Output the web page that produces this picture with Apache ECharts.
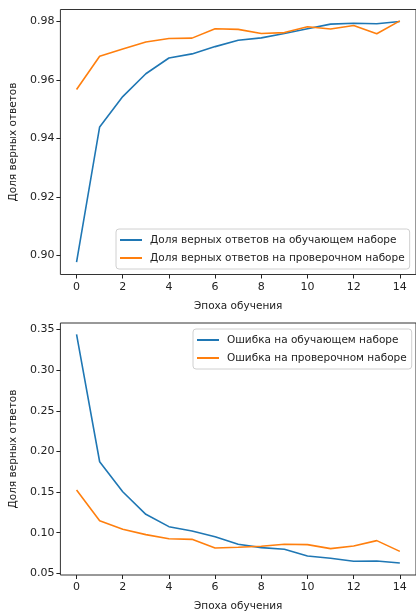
<!DOCTYPE html>
<html>
<head>
<meta charset="utf-8">
<script src="https://cdn.jsdelivr.net/npm/echarts@6/dist/echarts.min.js"></script>
<style>
  html, body { margin: 0; padding: 0; background: #fff; }
  #main { width: 416px; height: 614px; }
</style>
</head>
<body>
<div id="main"></div>
<script>
// эпохи и значения
var epochs = [0, 1, 2, 3, 4, 5, 6, 7, 8, 9, 10, 11, 12, 13, 14];
var accTrain = [0.8976, 0.9439, 0.9543, 0.9621, 0.9675, 0.9689, 0.9714, 0.9736, 0.9744, 0.9759, 0.9775, 0.9791, 0.9794, 0.9792, 0.9800];
var accVal = [0.9567, 0.9681, 0.9706, 0.9730, 0.9742, 0.9743, 0.9775, 0.9773, 0.9759, 0.9762, 0.9782, 0.9774, 0.9786, 0.9758, 0.9802];
var lossTrain = [0.3440, 0.1873, 0.1504, 0.1226, 0.1074, 0.1020, 0.0951, 0.0857, 0.0816, 0.0796, 0.0713, 0.0685, 0.0648, 0.0652, 0.0627];
var lossVal = [0.1525, 0.1148, 0.1041, 0.0976, 0.0926, 0.0918, 0.0811, 0.0820, 0.0832, 0.0857, 0.0853, 0.0804, 0.0836, 0.0902, 0.0770];
var xTicks = [0, 2, 4, 6, 8, 10, 12, 14];
var accTicks = [0.90, 0.92, 0.94, 0.96, 0.98];
var lossTicks = [0.05, 0.10, 0.15, 0.20, 0.25, 0.30, 0.35];

var names = {
  accTrain: "Доля верных ответов на обучающем наборе",
  accVal: "Доля верных ответов на проверочном наборе",
  lossTrain: "Ошибка на обучающем наборе",
  lossVal: "Ошибка на проверочном наборе"
};

function pairs(ys) {
  return epochs.map(function (x, i) { return [x, ys[i]]; });
}

var font = "DejaVu Sans";
var txt = "#222";

function xAxisCfg(gridIndex) {
  return {
    type: "value",
    gridIndex: gridIndex,
    min: -0.7,
    max: 14.7,
    name: "Эпоха обучения",
    nameLocation: "middle",
    nameGap: 26,
    nameTextStyle: { color: txt, fontFamily: font, fontSize: 10.5 },
    axisLine: { show: false, onZero: false },
    axisTick: { show: true, length: 4, lineStyle: { color: "#222" }, customValues: xTicks },
    axisLabel: { color: txt, fontFamily: font, fontSize: 11, margin: 7, customValues: xTicks },
    splitLine: { show: false }
  };
}

function yAxisCfg(gridIndex, min, max, ticks) {
  return {
    type: "value",
    gridIndex: gridIndex,
    min: min,
    max: max,
    name: "Доля верных ответов",
    nameLocation: "middle",
    nameGap: 35,
    nameTextStyle: { color: txt, fontFamily: font, fontSize: 10.5 },
    axisLine: { show: false, onZero: false },
    axisTick: { show: true, length: 4, lineStyle: { color: "#222" }, customValues: ticks },
    axisLabel: {
      color: txt, fontFamily: font, fontSize: 11, margin: 6, customValues: ticks,
      formatter: function (v) { return v.toFixed(2); }
    },
    splitLine: { show: false }
  };
}

function lineSeries(name, ys, color, idx) {
  return {
    name: name,
    type: "line",
    xAxisIndex: idx,
    yAxisIndex: idx,
    data: pairs(ys),
    symbol: "none",
    lineStyle: { width: 1.6, color: color },
    itemStyle: { color: color }
  };
}

var legendBase = {
  orient: "vertical",
  icon: "rect",
  itemWidth: 22,
  itemHeight: 2,
  itemGap: 4,
  padding: [4, 5, 4, 4],
  backgroundColor: "rgba(255,255,255,0.85)",
  borderColor: "#d0d0d0",
  borderWidth: 1,
  borderRadius: 3,
  textStyle: { color: txt, fontFamily: font, fontSize: 10.5, lineHeight: 14, padding: [0, 0, 0, 3] }
};

var myChart = echarts.init(document.getElementById("main"));
var option = {
  animation: false,
  backgroundColor: "#fff",
  grid: [
    { left: 57.5, top: 9.5, width: 360, height: 265, show: true, borderColor: "#333", borderWidth: 1 },
    { left: 57.5, top: 323, width: 360, height: 252, show: true, borderColor: "#333", borderWidth: 1 }
  ],
  xAxis: [xAxisCfg(0), xAxisCfg(1)],
  yAxis: [
    yAxisCfg(0, 0.8934, 0.9841, accTicks),
    yAxisCfg(1, 0.0479, 0.3581, lossTicks)
  ],
  legend: [
    Object.assign({}, legendBase, { left: 116, top: 229, data: [names.accTrain, names.accVal] }),
    Object.assign({}, legendBase, { left: 193, top: 329, data: [names.lossTrain, names.lossVal] })
  ],
  series: [
    lineSeries(names.accTrain, accTrain, "#1f77b4", 0),
    lineSeries(names.accVal, accVal, "#ff7f0e", 0),
    lineSeries(names.lossTrain, lossTrain, "#1f77b4", 1),
    lineSeries(names.lossVal, lossVal, "#ff7f0e", 1)
  ]
};
myChart.setOption(option);
window.addEventListener("resize", function () {
  myChart.resize();
});
</script>
</body>
</html>
